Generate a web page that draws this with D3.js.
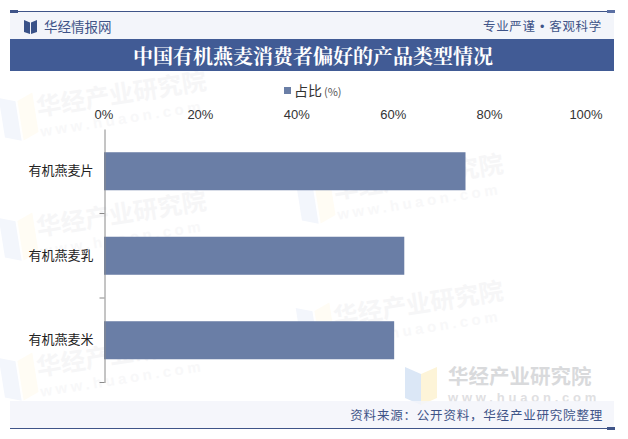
<!DOCTYPE html>
<html><head><meta charset="utf-8">
<script src="https://cdn.jsdelivr.net/npm/d3@7/dist/d3.min.js"></script>
<style>html,body{margin:0;padding:0;background:#fff}svg{display:block}</style>
</head><body><svg id="c" width="628" height="439"></svg>
<script>
const categories = ["有机燕麦片","有机燕麦乳","有机燕麦米"];
const shareValues = [75,62.3,60.2];
const xTicks = [0,20,40,60,80,100];
const titleText = "中国有机燕麦消费者偏好的产品类型情况";
const legendText = "占比";
const legendUnit = "(%)";
const brandText = "华经情报网";
const sloganText = "专业严谨 • 客观科学";
const sourceText = "资料来源：公开资料，华经产业研究院整理";
const wmName = "华经产业研究院";
const wmUrl = "www.huaon.com";

const sans = "'Noto Sans CJK SC','Liberation Sans',sans-serif";
const svg = d3.select("#c");
const x = d3.scaleLinear().domain([0,100]).range([104,586]);
const y = d3.scaleBand().domain(categories).range([129,382.5]).paddingInner(0.55).paddingOuter(0.275);

// watermarks
const wm = svg.append("g");
[[38,116],[38,236],[38,376],[335,199],[335,326]].forEach(([a,b])=>{
  const g = wm.append("g").attr("transform",`translate(${a},${b}) rotate(-9)`);
  g.append("text").attr("font-family",sans).attr("font-weight",700).attr("font-size",24.5).attr("fill","#f6f6f7").text(wmName);
  g.append("text").attr("y",21).attr("font-family","'Liberation Sans',sans-serif").attr("font-weight",700).attr("letter-spacing",3.6).attr("font-size",15).attr("fill","#f8f8f9").text(wmUrl);
  g.append("path").attr("d","M-36,-24 L-20,-18 L-20,22 L-36,16 Z").attr("fill","#f3f6fc");
  g.append("path").attr("d","M-2,-24 L-18,-18 L-18,22 L-2,16 Z").attr("fill","#fffcf4");
});
// sharp corner watermark
const cw = svg.append("g");
cw.append("path").attr("d","M405,367 L421,374 L421,405 L405,398 Z").attr("fill","#dbe7f6");
cw.append("path").attr("d","M437,367 L421,374 L421,405 L437,398 Z").attr("fill","#fdf4d8");
cw.append("text").attr("x",448).attr("y",384).attr("font-family",sans).attr("font-weight",700).attr("font-size",20.5).attr("fill","#d9dadc").text(wmName);
cw.append("text").attr("x",448).attr("y",402).attr("font-family","'Liberation Sans',sans-serif").attr("font-weight",700).attr("letter-spacing",3.8).attr("font-size",13).attr("fill","#dfe0e2").text(wmUrl);

// header
svg.append("rect").attr("x",10).attr("y",12).attr("width",604).attr("height",27).attr("fill","#f3f5fa");
svg.append("rect").attr("x",10).attr("y",11).attr("width",604).attr("height",1).attr("fill","#3f5488");
svg.append("rect").attr("x",10).attr("y",10).attr("width",8).attr("height",3).attr("fill","#3f5488");
svg.append("rect").attr("x",607).attr("y",10).attr("width",8).attr("height",3).attr("fill","#5a6fa3");
svg.append("path").attr("d","M24,20 L30,22.5 L30,34 L24,32 Z M37,20 L31,22.5 L31,34 L37,32 Z").attr("fill","#3a5288");
svg.append("text").attr("x",44).attr("y",32).attr("font-family",sans).attr("font-size",13.5).attr("fill","#3f5488").text(brandText);
svg.append("text").attr("x",602).attr("y",31).attr("text-anchor","end").attr("font-family","'Liberation Sans','Noto Sans CJK SC',sans-serif").attr("font-size",12.5).attr("letter-spacing",0.7).attr("fill","#3f5488").text(sloganText);
svg.append("rect").attr("x",10).attr("y",39).attr("width",604).attr("height",32).attr("fill","#415b95");
svg.append("text").attr("x",313).attr("y",64).attr("text-anchor","middle").attr("font-family","'Noto Serif CJK SC','Noto Sans CJK SC',serif").attr("font-weight",700).attr("font-size",20).attr("fill","#fff").text(titleText);

// legend
svg.append("rect").attr("x",284).attr("y",87).attr("width",7).attr("height",7).attr("fill","#6a7ea6");
svg.append("text").attr("x",294).attr("y",96).attr("font-family",sans).attr("font-size",14).attr("fill","#333").text(legendText);
svg.append("text").attr("x",324).attr("y",96).attr("font-family",sans).attr("font-size",11).attr("fill","#555").text(legendUnit);

// axes
svg.append("g").selectAll("text").data(xTicks).join("text")
  .attr("x",d=>x(d)).attr("y",119).attr("text-anchor","middle")
  .attr("font-family","'Liberation Sans',sans-serif").attr("font-size",13).attr("fill","#333").text(d=>d+"%");

svg.append("g").selectAll("rect").data(categories).join("rect")
  .attr("x",x(0)).attr("y",d=>y(d)).attr("height",y.bandwidth())
  .attr("width",(d,i)=>x(shareValues[i])-x(0)).attr("fill","#6a7ea6");

const step = y.step();
const yAxis = d3.axisLeft(y).tickSize(0).tickPadding(11);
const ga = svg.append("g").attr("transform",`translate(${x(0)+0.5},0)`).call(yAxis);
ga.select(".domain").attr("stroke","#8a8a8a");
ga.selectAll("text").attr("font-family",sans).attr("font-size",13).attr("fill","#222");
ga.selectAll(".boundary").data(categories).join("line").attr("class","boundary")
  .attr("x1",-5).attr("x2",0)
  .attr("y1",d=>y(d)+y.bandwidth()+(step-y.bandwidth())/2)
  .attr("y2",d=>y(d)+y.bandwidth()+(step-y.bandwidth())/2)
  .attr("stroke","#8a8a8a");

// footer
svg.append("rect").attr("x",10).attr("y",401).attr("width",604).attr("height",27).attr("fill","#f3f5fa").attr("fill-opacity",0.85);
svg.append("rect").attr("x",10).attr("y",428).attr("width",604).attr("height",1).attr("fill","#3f5488");
svg.append("rect").attr("x",607).attr("y",427).attr("width",8).attr("height",3).attr("fill","#3f5488");
svg.append("text").attr("x",603).attr("y",420).attr("text-anchor","end").attr("font-family",sans).attr("font-size",12.5).attr("letter-spacing",0.8).attr("fill","#3f5488").text(sourceText);
</script></body></html>
